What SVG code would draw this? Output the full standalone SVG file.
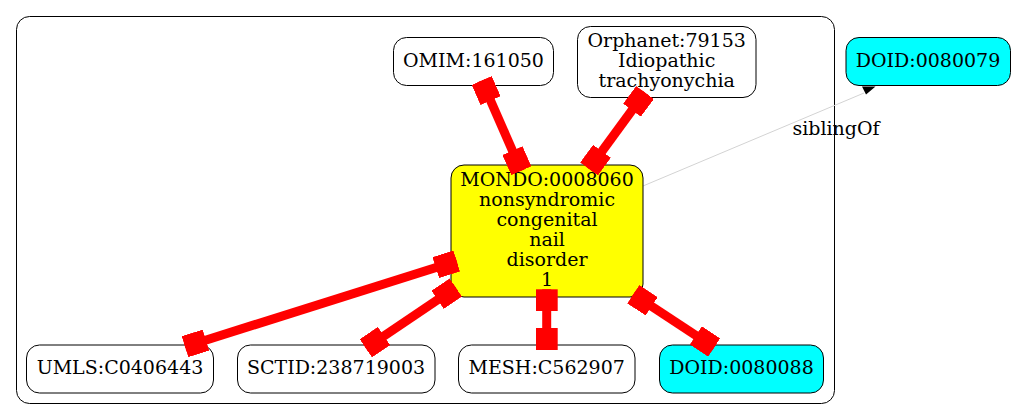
<svg xmlns="http://www.w3.org/2000/svg" width="1015" height="420" viewBox="0 0 1015 420">
<style>
.node rect{stroke:#000;stroke-width:1;fill:#fff}
.node.cyan rect{fill:#00ffff}
.node.yellow rect{fill:#ffff00}
text{font-family:"DejaVu Serif","Liberation Serif",serif;font-size:19px;fill:#000;text-anchor:middle}
.xref{stroke:#ff0000;stroke-width:9;fill:none;marker-start:url(#box);marker-end:url(#box)}
.sib{stroke:#d3d3d3;stroke-width:1;fill:none}
</style>
<defs>
<marker id="box" markerUnits="userSpaceOnUse" markerWidth="22" markerHeight="22" viewBox="0 0 22 22" refX="22" refY="11" orient="auto-start-reverse">
<rect x="0" y="0" width="22" height="22" fill="#ff0000"/>
</marker>
</defs>
<rect width="1015" height="420" fill="#fff"/>
<g id="cluster">
<rect x="16.5" y="16.5" width="818" height="387" rx="13" fill="none" stroke="#000" stroke-width="1"/>
</g>
<g id="sibling-edge">
<path class="sib" d="M643,186 L864,93"/>
<text x="836" y="135">siblingOf</text>
</g>
<g id="nodes">
<g id="n-omim" class="node"><rect x="393.5" y="37.5" width="160" height="48" rx="13"/><text x="473.5" y="67">OMIM:161050</text></g>
<g id="n-orphanet" class="node"><rect x="577.5" y="26.5" width="178.5" height="71" rx="13"/><text x="666.7" y="47">Orphanet:79153</text><text x="666.7" y="67">Idiopathic</text><text x="666.7" y="87">trachyonychia</text></g>
<g id="n-doid79" class="node cyan"><rect x="846" y="37.5" width="164.5" height="48" rx="13"/><text x="928" y="67">DOID:0080079</text></g>
<g id="n-mondo" class="node yellow"><rect x="451" y="165" width="192" height="132" rx="13"/>
<text x="547" y="186">MONDO:0008060</text><text x="547" y="206">nonsyndromic</text><text x="547" y="226">congenital</text><text x="547" y="246">nail</text><text x="547" y="266">disorder</text><text x="547" y="286">1</text></g>
<g id="n-umls" class="node"><rect x="26.5" y="345" width="187" height="48" rx="13"/><text x="120" y="374">UMLS:C0406443</text></g>
<g id="n-sctid" class="node"><rect x="237.5" y="345" width="197.5" height="48" rx="13"/><text x="336" y="374">SCTID:238719003</text></g>
<g id="n-mesh" class="node"><rect x="458.5" y="345" width="176.5" height="48" rx="13"/><text x="546.7" y="374">MESH:C562907</text></g>
<g id="n-doid88" class="node cyan"><rect x="659.5" y="345" width="164" height="48" rx="13"/><text x="741.5" y="374">DOID:0080088</text></g>
</g>
<g id="connectors">
<path class="xref" d="M481.7,80.5 L521.3,170.7"/>
<path class="xref" d="M645,92.5 L589,169"/>
<path class="xref" d="M456.7,261 L185,346.7"/>
<path class="xref" d="M455.8,287.5 L365.8,348.3"/>
<path class="xref" d="M546.7,289.3 L546.7,350"/>
<path class="xref" d="M633.3,294.2 L714.2,347.5"/>
<polygon points="862,86.5 875.5,86.5 866,94.5" fill="#000"/>
</g>
</svg>
